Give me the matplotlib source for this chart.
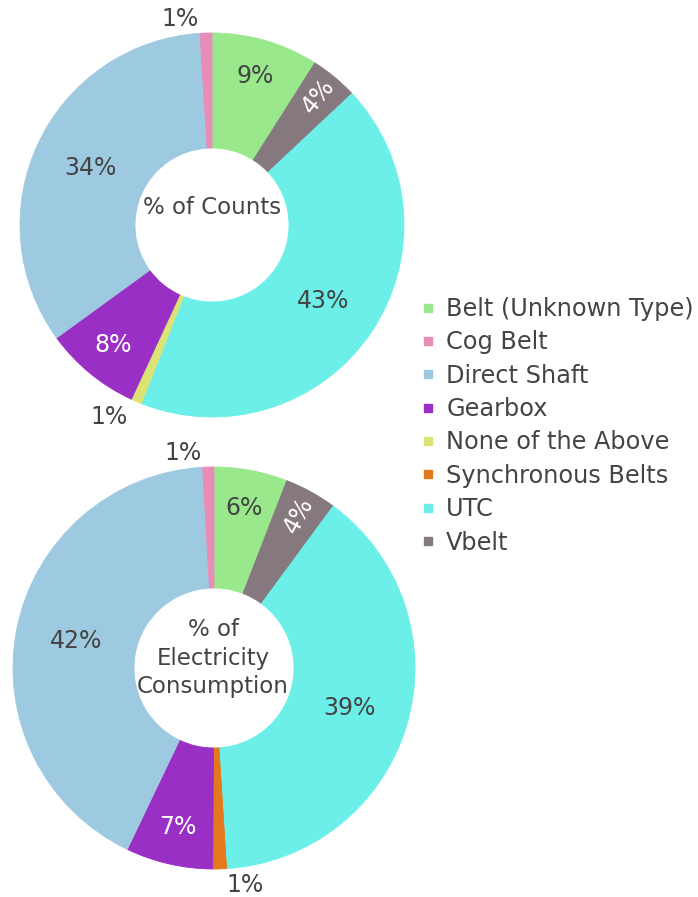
import matplotlib.pyplot as plt
import numpy as np
from matplotlib.lines import Line2D

# categories in legend order
categories = ["Belt (Unknown Type)", "Cog Belt", "Direct Shaft", "Gearbox",
              "None of the Above", "Synchronous Belts", "UTC", "Vbelt"]
colors = ["#99e88b", "#e88cba", "#9ecae1", "#9a2fc5",
          "#dce375", "#e3781c", "#6cefe9", "#85797f"]

# slice order, clockwise from 12 o'clock
slice_order = ["Belt (Unknown Type)", "Vbelt", "UTC", "None of the Above",
               "Synchronous Belts", "Gearbox", "Direct Shaft", "Cog Belt"]

# percent shares in slice_order
counts_pct = [9.0, 4.0, 43.0, 0.9, 0.0, 8.1, 34.0, 1.0]
electricity_pct = [5.9, 4.2, 38.9, 0.0, 1.1, 7.0, 42.0, 0.9]

W, H = 698, 897
TEXT = "#444444"
FS = 17

color_of = dict(zip(categories, colors))


def luminance(hex_color):
    r, g, b = (int(hex_color[i:i + 2], 16) / 255 for i in (1, 3, 5))
    return 0.299 * r + 0.587 * g + 0.114 * b


def donut(ax, values, center, radius, hole):
    names = [n for n, v in zip(slice_order, values) if v > 0]
    vals = [v for v in values if v > 0]
    cols = [color_of[n] for n in names]
    wedges, _ = ax.pie(vals, colors=cols, startangle=90, counterclock=False,
                       center=center, radius=radius,
                       wedgeprops=dict(width=radius - hole, linewidth=0.6))
    cx, cy = center
    for w, v, c in zip(wedges, vals, cols):
        w.set_edgecolor(c)
        mid = np.deg2rad((w.theta1 + w.theta2) / 2)
        label = "%d%%" % round(v)
        if v < 1.5:
            # tiny slices get their label outside the ring
            r = radius + 4
            x, y = cx + r * np.cos(mid), cy + r * np.sin(mid)
            left = np.cos(mid) < 0
            x += -7 if left else 7
            y += -2 if np.sin(mid) > 0 else 0
            ax.text(x, y, label, fontsize=FS, color=TEXT,
                    ha="right" if left else "left",
                    va="bottom" if np.sin(mid) > 0 else "top")
            continue
        if v >= 20:
            frac = 0.70
        elif v < 5:
            frac = 0.87
        else:
            frac = 0.81
        x, y = cx + frac * radius * np.cos(mid), cy + frac * radius * np.sin(mid)
        rot = 0
        if v < 5:
            rot = np.rad2deg(mid)
            if rot > 90:
                rot -= 180
        tc = "white" if luminance(c) < 0.55 else TEXT
        ax.text(x, y, label, fontsize=FS, color=tc, ha="center", va="center",
                rotation=rot, rotation_mode="anchor")


fig = plt.figure(figsize=(W / 100, H / 100), dpi=100)
ax = fig.add_axes([0, 0, 1, 1])

donut(ax, counts_pct, (212, H - 225), 192, 77)
donut(ax, electricity_pct, (214, H - 668), 201, 80)

ax.text(212, H - 207, "% of Counts", fontsize=16.5, color=TEXT,
        ha="center", va="center")
ax.text(213, H - 658, "% of\nElectricity\nConsumption", fontsize=16.5,
        color=TEXT, ha="center", va="center", linespacing=1.33)

ax.set_xlim(0, W)
ax.set_ylim(0, H)
ax.set_aspect("equal")
ax.axis("off")

handles = [Line2D([], [], marker="s", linestyle="", color=c, markersize=6)
           for c in colors]
leg = ax.legend(handles, categories, loc="upper left",
                bbox_to_anchor=(421 / W, 1 - 297 / H), frameon=False,
                fontsize=17.3, handlelength=0.6, handletextpad=0.45,
                labelspacing=0.39, borderaxespad=0, borderpad=0)
for t in leg.get_texts():
    t.set_color(TEXT)

fig.savefig("out.png", dpi=100)
